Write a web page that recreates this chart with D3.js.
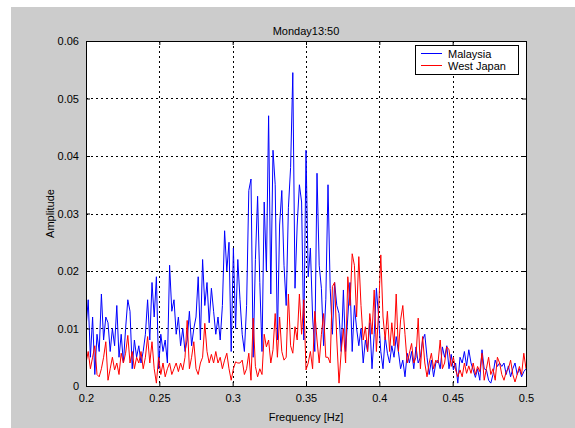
<!DOCTYPE html>
<html>
<head>
<meta charset="utf-8">
<script src="https://cdn.jsdelivr.net/npm/d3@7"></script>
<style>
  body { margin: 0; background: #fff; }
  text { font-family: "Liberation Sans", Arial, sans-serif; }
</style>
</head>
<body>
<div id="chart"></div>
<script>
// frequency grid: 0.2 .. 0.5 Hz, step 0.0015
var fStart = 0.2, fStep = 0.0015;

// amplitudes, in units of 1e-3
var malaysia = [
  10,15,5,12,2,9,6,16,8,12,
  11,6,10,7,14,5,9,4,10,15,
  13,3,8,5,7,4,6,9,15,8,
  18,12,19,3,9,6,8,4,21,13,
  15,9,12,7,10,6,8,13,7,10,
  12,19,8,22,14,18,11,17,13,9,
  12,8,14,27,20,25,6,24,10,22,
  15,9,6,14,34,36,5,22,33,18,
  6,32,20,47,16,41,35,8,28,34,
  21,14,31,38,54.5,17,28,35,32,8,
  41,19,24,12,6,37,21,17,7,15,
  35,17,9,18,14,12.6,6,16.7,6,12,
  18,6,14,10,7,10,4,8,6,11,
  3,9,17,12,6,3,8.6,5.7,4,7,
  5,8.6,6,3,4.5,1.6,5.7,4,6,3,
  6.8,4,5,8,9,5,2,4.5,1.6,4,
  4.5,3,6.8,5,7,3,5.5,2.8,4,0.5,
  5,4,6,3.5,6.3,4,2.8,1.5,3,1,
  6.3,3,2.8,1,0.5,2,4.5,3.4,4,3.4,
  4,2,3.5,1.6,3,4,2,3,1.6,2.5,
  3
];
var westJapan = [
  4,6,3,5,7,2,1.6,3,5,7.7,
  1,3,5,2.8,4,2,5.7,4,5.7,8.8,
  4,6,3,5,4,6,3,5,8.6,4,
  7.7,3,0.5,5,2,4,1.6,3,4,2,
  3,4,2.5,4,2.8,5,11.4,3,5,7.7,
  3,2,4,5,10.9,6,4,5.5,4,6,
  4,5,3,4.5,5.7,3,1,3,4.2,4,
  4,4.5,2,3,5.7,1,11.8,3.4,1.6,3,
  2,9,6.8,8,4,6.3,12.6,5,12,6,
  4.5,5,16,7,5.7,10.3,8,16,9,15,
  2.8,4,6,3,13,8,4,9,12.6,5,
  5,4,17.3,18,8,0.5,6,10,4,19,
  14,23,21,12,22.5,14,8,10.3,6,12.6,
  9,16.7,6,13,22.8,12,8,13,6,11,
  7,16,6,11.5,14,9,4,5.7,7.4,4,
  5,11.8,3,8.6,4,1.6,4,5.7,3,4.5,
  4,8,3,4,6.8,6.3,3.4,5,2.8,1.6,
  2.8,1.6,4,2.2,3.5,2.2,4,2,3.4,2.5,
  5.7,1,3,5,2,3,1,5,4,2,
  1,2.5,3,4.5,2,0.7,2,3.4,2,5.7,
  3
];

var seriesNames = ["Malaysia", "West Japan"];
var seriesColors = ["#0000ff", "#ff0000"];

var xTicks = [0.2, 0.25, 0.3, 0.35, 0.4, 0.45, 0.5];
var xTickLabels = ["0.2", "0.25", "0.3", "0.35", "0.4", "0.45", "0.5"];
var yTicks = [0, 0.01, 0.02, 0.03, 0.04, 0.05, 0.06];
var yTickLabels = ["0", "0.01", "0.02", "0.03", "0.04", "0.05", "0.06"];

var titleText = "Monday13:50";
var xLabel = "Frequency [Hz]";
var yLabel = "Amplitude";

// build series table
function toPoints(arr) {
  return arr.map(function(v, i) { return {f: fStart + i * fStep, a: v / 1000}; });
}
var series = [toPoints(malaysia), toPoints(westJapan)];

var W = 575, H = 428;
var plot = {left: 86, right: 526, top: 41, bottom: 386};

var svg = d3.select("#chart").append("svg")
    .attr("width", W)
    .attr("height", H);

// gray figure background
svg.append("rect")
    .attr("x", 11).attr("y", 7)
    .attr("width", W - 11).attr("height", H - 7)
    .attr("fill", "#cccccc");

var x = d3.scaleLinear().domain([0.2, 0.5]).range([plot.left, plot.right]);
var y = d3.scaleLinear().domain([0, 0.06]).range([plot.bottom, plot.top]);

// axes area
svg.append("rect")
    .attr("x", plot.left).attr("y", plot.top)
    .attr("width", plot.right - plot.left)
    .attr("height", plot.bottom - plot.top)
    .attr("fill", "#fff");

// grid
var grid = svg.append("g").attr("stroke", "#000").attr("stroke-width", 1)
    .attr("stroke-dasharray", "2,3").attr("shape-rendering", "crispEdges");
grid.selectAll(".vx").data(xTicks.slice(1, -1)).enter().append("line")
    .attr("x1", function(d) { return Math.round(x(d)) + 0.5; })
    .attr("x2", function(d) { return Math.round(x(d)) + 0.5; })
    .attr("y1", plot.top).attr("y2", plot.bottom);
grid.selectAll(".hy").data(yTicks.slice(1, -1)).enter().append("line")
    .attr("y1", function(d) { return Math.round(y(d)) + 0.5; })
    .attr("y2", function(d) { return Math.round(y(d)) + 0.5; })
    .attr("x1", plot.left).attr("x2", plot.right);

// lines
var clip = svg.append("clipPath").attr("id", "clip").append("rect")
    .attr("x", plot.left).attr("y", plot.top)
    .attr("width", plot.right - plot.left)
    .attr("height", plot.bottom - plot.top);

var line = d3.line()
    .x(function(d) { return x(d.f); })
    .y(function(d) { return y(d.a); });

svg.append("g").attr("clip-path", "url(#clip)")
  .selectAll("path")
  .data(series)
  .enter().append("path")
    .attr("fill", "none")
    .attr("stroke", function(d, i) { return seriesColors[i]; })
    .attr("stroke-width", 1)
    .attr("stroke-linejoin", "miter")
    .attr("d", line);

// axes (ticks inward, Matlab style)
var xAxis = d3.axisBottom(x).tickValues(xTicks)
    .tickFormat(function(d, i) { return xTickLabels[i]; })
    .tickSizeInner(-4).tickSizeOuter(0).tickPadding(8);
var yAxis = d3.axisLeft(y).tickValues(yTicks)
    .tickFormat(function(d, i) { return yTickLabels[i]; })
    .tickSizeInner(-4).tickSizeOuter(0).tickPadding(7);

var gx = svg.append("g")
    .attr("transform", "translate(0," + plot.bottom + ")")
    .call(xAxis);
var gy = svg.append("g")
    .attr("transform", "translate(" + plot.left + ",0)")
    .call(yAxis);
svg.append("g").attr("transform", "translate(0," + plot.top + ")")
    .call(d3.axisTop(x).tickValues(xTicks).tickFormat("").tickSizeInner(-4).tickSizeOuter(0));
svg.append("g").attr("transform", "translate(" + plot.right + ",0)")
    .call(d3.axisRight(y).tickValues(yTicks).tickFormat("").tickSizeInner(-4).tickSizeOuter(0));

svg.selectAll(".domain").remove();
svg.selectAll(".tick line").attr("stroke", "#000");
gx.selectAll("text").attr("font-size", 11).attr("fill", "#000")
    .attr("font-family", "Liberation Sans, Arial, sans-serif");
gy.selectAll("text").attr("font-size", 11).attr("fill", "#000")
    .attr("font-family", "Liberation Sans, Arial, sans-serif");

// box
svg.append("rect")
    .attr("x", plot.left + 0.5).attr("y", plot.top + 0.5)
    .attr("width", plot.right - plot.left)
    .attr("height", plot.bottom - plot.top)
    .attr("fill", "none").attr("stroke", "#000").attr("stroke-width", 1);

// title and labels
svg.append("text")
    .attr("x", (plot.left + plot.right) / 2).attr("y", 35)
    .attr("text-anchor", "middle").style("font-size", "11px")
    .text(titleText);
svg.append("text")
    .attr("x", (plot.left + plot.right) / 2).attr("y", 421)
    .attr("text-anchor", "middle").style("font-size", "11px")
    .text(xLabel);
svg.append("text")
    .attr("text-anchor", "middle")
    .attr("transform", "translate(54," + ((plot.top + plot.bottom) / 2) + ")rotate(-90)")
    .style("font-size", "11px")
    .text(yLabel);

// legend
var lg = svg.append("g").attr("transform", "translate(415,45)");
lg.append("rect")
    .attr("x", 0.5).attr("y", 0.5).attr("width", 103).attr("height", 29)
    .attr("fill", "#fff").attr("stroke", "#000");
seriesNames.forEach(function(name, i) {
  lg.append("line")
      .attr("x1", 6).attr("x2", 27)
      .attr("y1", 8.5 + i * 12).attr("y2", 8.5 + i * 12)
      .attr("stroke", seriesColors[i]);
  lg.append("text")
      .attr("x", 33).attr("y", 12.5 + i * 12)
      .style("font-size", "11px")
      .text(name);
});
</script>
</body>
</html>
